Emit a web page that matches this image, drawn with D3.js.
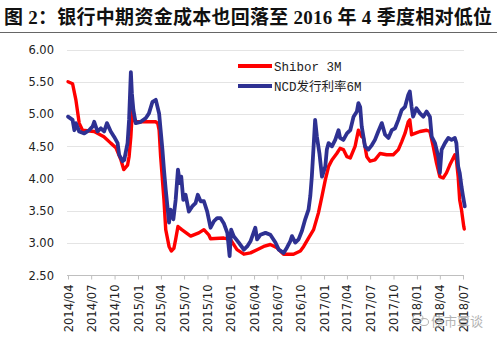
<!DOCTYPE html>
<html><head><meta charset="utf-8">
<script src="https://cdn.jsdelivr.net/npm/d3@7"></script>
<style>
html,body{margin:0;padding:0;background:#fff;}
svg{display:block;}
</style></head>
<body>
<svg id="chart" width="500" height="338"></svg>
<script>
// ---------- data ----------
const titleText = "图 2：银行中期资金成本也回落至 2016 年 4 季度相对低位";
const seriesNames = ["Shibor 3M", "NCD发行利率6M"];
const yTicks = [2.5, 3.0, 3.5, 4.0, 4.5, 5.0, 5.5, 6.0];
const xTickLabels = ["2014/04","2014/07","2014/10","2015/01","2015/04","2015/07","2015/10",
  "2016/01","2016/04","2016/07","2016/10","2017/01","2017/04","2017/07","2017/10",
  "2018/01","2018/04","2018/07"];

const shibor3M = [
 ["2014-04-01",5.50],["2014-04-19",5.47],["2014-05-02",5.22],["2014-05-15",4.86],["2014-05-28",4.75],
 ["2014-07-13",4.73],["2014-08-20",4.65],["2014-09-16",4.55],["2014-10-06",4.48],["2014-10-26",4.29],
 ["2014-11-06",4.14],["2014-11-21",4.21],["2014-11-27",4.34],["2014-12-04",4.65],["2014-12-10",5.06],
 ["2014-12-17",4.90],["2014-12-23",4.88],["2015-03-12",4.88],["2015-03-20",4.85],["2015-03-25",4.75],
 ["2015-03-31",4.34],["2015-04-13",3.67],["2015-04-20",3.21],["2015-05-03",2.95],["2015-05-12",2.88],
 ["2015-05-22",2.92],["2015-05-29",3.06],["2015-06-07",3.26],["2015-06-22",3.21],["2015-07-27",3.11],
 ["2015-08-28",3.16],["2015-09-17",3.21],["2015-10-06",3.13],["2015-10-13",3.07],["2015-12-04",3.08],
 ["2015-12-30",3.06],["2016-01-25",2.90],["2016-02-21",2.83],["2016-03-18",2.85],["2016-04-13",2.90],
 ["2016-05-09",2.95],["2016-06-04",2.98],["2016-06-30",2.93],["2016-07-26",2.83],["2016-09-03",2.83],
 ["2016-09-30",2.88],["2016-10-13",2.95],
 ["2016-11-01",3.08],["2016-11-21",3.21],["2016-12-10",3.47],["2016-12-24",3.73],["2017-01-06",3.98],
 ["2017-01-19",4.19],["2017-02-01",4.29],["2017-02-20",4.39],["2017-03-05",4.47],["2017-03-18",4.45],
 ["2017-04-01",4.34],["2017-04-14",4.32],["2017-05-03",4.50],["2017-05-16",4.75],["2017-05-29",4.65],
 ["2017-06-05",4.63],["2017-06-18",4.34],["2017-07-01",4.27],["2017-07-20",4.29],["2017-08-09",4.39],
 ["2017-09-04",4.37],["2017-09-30",4.37],["2017-10-20",4.45],["2017-11-02",4.57],["2017-11-15",4.70],
 ["2017-11-28",4.88],["2017-12-04",4.91],["2017-12-11",4.68],["2017-12-24",4.70],["2018-01-13",4.73],
 ["2018-02-08",4.75],["2018-02-21",4.73],["2018-03-06",4.50],["2018-03-19",4.24],["2018-04-01",4.03],
 ["2018-04-14",4.01],["2018-04-27",4.09],["2018-05-10",4.21],["2018-05-30",4.37],["2018-06-05",4.29],
 ["2018-06-12",4.03],["2018-06-18",3.67],["2018-06-25",3.52],["2018-07-04",3.26],["2018-07-06",3.22]
];

const ncd6M = [
 ["2014-04-01",4.96],["2014-04-19",4.91],["2014-04-26",4.75],["2014-05-02",4.86],["2014-05-15",4.73],
 ["2014-06-04",4.70],["2014-06-23",4.75],["2014-07-07",4.81],["2014-07-13",4.88],["2014-07-26",4.73],
 ["2014-08-08",4.78],["2014-08-21",4.73],["2014-09-01",4.86],["2014-09-16",4.73],["2014-09-29",4.65],
 ["2014-10-13",4.55],["2014-10-19",4.37],["2014-11-01",4.27],["2014-11-08",4.29],["2014-11-21",4.55],
 ["2014-11-27",4.91],["2014-12-04",5.65],["2014-12-08",5.32],["2014-12-14",5.06],["2014-12-23",4.86],
 ["2015-01-12",4.88],["2015-02-01",4.94],["2015-02-13",5.01],["2015-02-27",5.19],["2015-03-12",5.22],
 ["2015-03-25",5.01],["2015-03-31",4.75],["2015-04-07",4.45],["2015-04-13",4.14],["2015-04-20",3.83],
 ["2015-05-03",3.32],["2015-05-09",3.52],["2015-05-20",3.37],["2015-05-29",3.67],["2015-06-07",4.14],
 ["2015-06-15",3.93],["2015-06-20",4.03],["2015-06-28",3.67],["2015-07-07",3.75],["2015-07-20",3.49],
 ["2015-08-02",3.57],["2015-08-15",3.62],["2015-08-24",3.75],["2015-09-04",3.65],["2015-09-17",3.65],
 ["2015-09-30",3.49],["2015-10-13",3.24],["2015-10-26",3.34],["2015-11-08",3.39],["2015-11-21",3.39],
 ["2015-12-04",3.31],["2015-12-18",3.16],["2015-12-27",2.80],["2016-01-02",3.21],["2016-01-12",3.11],
 ["2016-02-01",3.01],["2016-02-21",2.90],["2016-03-05",2.95],["2016-03-18",3.03],["2016-04-06",3.24],
 ["2016-04-13",3.06],["2016-04-26",3.13],["2016-05-16",3.16],["2016-06-04",3.13],["2016-06-24",3.01],
 ["2016-07-07",2.90],["2016-07-26",2.85],["2016-08-08",2.93],
 ["2016-08-21",3.03],["2016-08-28",3.11],["2016-09-10",3.01],["2016-09-23",3.06],["2016-10-06",3.19],
 ["2016-10-19",3.37],["2016-11-01",3.52],["2016-11-08",3.73],["2016-11-14",4.03],["2016-11-21",4.50],
 ["2016-11-27",4.91],["2016-12-04",4.65],["2016-12-14",4.39],["2016-12-24",4.03],["2017-01-06",4.19],
 ["2017-01-12",4.45],["2017-01-19",4.55],["2017-02-01",4.50],["2017-02-14",4.60],["2017-02-27",4.75],
 ["2017-03-05",4.63],["2017-03-18",4.60],["2017-04-01",4.70],["2017-04-14",4.75],["2017-04-27",4.96],
 ["2017-05-10",5.04],["2017-05-16",5.17],["2017-05-23",5.11],["2017-05-29",4.81],["2017-06-11",4.50],
 ["2017-06-24",4.45],["2017-07-08",4.52],["2017-07-20",4.60],["2017-08-02",4.73],["2017-08-16",4.86],
 ["2017-08-29",4.68],["2017-09-11",4.63],["2017-09-24",4.75],["2017-10-07",4.78],["2017-10-20",4.91],
 ["2017-11-02",5.06],["2017-11-15",5.11],["2017-11-28",5.30],["2017-12-04",5.35],["2017-12-11",5.11],
 ["2017-12-17",4.96],["2017-12-30",5.09],["2018-01-13",5.01],["2018-01-26",4.96],["2018-02-08",5.04],
 ["2018-02-21",4.96],["2018-02-28",4.65],["2018-03-13",4.55],["2018-03-26",4.34],["2018-04-01",4.09],
 ["2018-04-08",4.45],["2018-04-21",4.55],["2018-05-04",4.63],["2018-05-17",4.60],["2018-05-30",4.63],
 ["2018-06-05",4.55],["2018-06-12",4.19],["2018-06-18",4.09],["2018-06-25",3.88],["2018-07-01",3.73],
 ["2018-07-08",3.57]
];

const seriesColors = ["#FF0000", "#2E3192"];

// ---------- drawing ----------
const parse = d3.timeParse("%Y-%m-%d");
const fmtTick = d3.timeFormat("%Y/%m");
const svg = d3.select("#chart");

const x = d3.scaleTime()
  .domain([parse("2014-04-01"), parse("2018-07-01")])
  .range([68, 463]);
const y = d3.scaleLinear().domain([2.5, 6.0]).range([275.5, 49.5]);

// title
svg.append("text")
  .attr("x", 4).attr("y", 24)
  .attr("font-family", "'Liberation Serif','Noto Sans CJK SC',serif")
  .attr("font-weight", "bold")
  .attr("font-size", 19)
  .attr("fill", "#111")
  .attr("textLength", 488)
  .attr("lengthAdjust", "spacing")
  .text(titleText);
svg.append("line")
  .attr("x1", 0).attr("x2", 497).attr("y1", 32.5).attr("y2", 32.5)
  .attr("stroke", "#666").attr("stroke-width", 1);

// gridlines
svg.append("g").selectAll("line")
  .data(yTicks.filter(v => v > 2.5))
  .join("line")
  .attr("x1", 67).attr("x2", 464)
  .attr("y1", d => Math.round(y(d)) + 0.5).attr("y2", d => Math.round(y(d)) + 0.5)
  .attr("stroke", "#E4E4E4").attr("stroke-width", 1);

// y axis labels
const yAxis = d3.axisLeft(y).tickValues(yTicks).tickFormat(d3.format(".2f")).tickSize(0).tickPadding(0);
const gy = svg.append("g").attr("transform", "translate(54,0)").call(yAxis);
gy.select(".domain").remove();
gy.selectAll("text")
  .attr("font-family", "'DejaVu Sans',sans-serif").attr("font-size", 11.5).attr("fill", "#222");

// x axis
const tickDates = xTickLabels.map(s => d3.timeParse("%Y/%m")(s));
const xAxis = d3.axisBottom(x).tickValues(tickDates).tickFormat(fmtTick).tickSize(4).tickSizeOuter(0);
const gx = svg.append("g").attr("transform", "translate(0,275.5)").call(xAxis);
gx.select(".domain").attr("stroke", "#BFBFBF").attr("d", "M67,0H464");
gx.selectAll(".tick line").attr("stroke", "#BFBFBF");
gx.selectAll("text")
  .attr("font-family", "'DejaVu Sans',sans-serif").attr("font-size", 11.5).attr("fill", "#222")
  .attr("text-anchor", "end")
  .attr("transform", "rotate(-90)")
  .attr("x", -9).attr("y", 0).attr("dy", "0.35em");

// lines
const line = d3.line().x(d => x(parse(d[0]))).y(d => y(d[1]));
[shibor3M, ncd6M].forEach((s, i) => {
  svg.append("path")
    .datum(s)
    .attr("d", line)
    .attr("fill", "none")
    .attr("stroke", seriesColors[i])
    .attr("stroke-width", i === 0 ? 3.4 : 3.8)
    .attr("stroke-linejoin", "round")
    .attr("stroke-linecap", "round");
});

// legend
const lg = svg.append("g");
seriesNames.forEach((name, i) => {
  const ly = 66 + i * 20;
  lg.append("line").attr("x1", 238).attr("x2", 272).attr("y1", ly).attr("y2", ly)
    .attr("stroke", seriesColors[i]).attr("stroke-width", 4);
  lg.append("text").attr("x", 274).attr("y", ly + 4.5)
    .attr("font-family", "'Liberation Mono','Noto Sans CJK SC',monospace")
    .attr("font-size", 12.5).attr("fill", "#222")
    .text(name);
});

// watermark
const wm = svg.append("g").attr("opacity", 0.75);
wm.append("ellipse").attr("cx", 418).attr("cy", 318).attr("rx", 5).attr("ry", 4)
  .attr("fill", "none").attr("stroke", "#9a9a9a").attr("stroke-width", 1);
wm.append("ellipse").attr("cx", 424).attr("cy", 322).attr("rx", 4.5).attr("ry", 3.5)
  .attr("fill", "none").attr("stroke", "#9a9a9a").attr("stroke-width", 1);
wm.append("text").attr("x", 431).attr("y", 326)
  .attr("font-family", "'Noto Sans CJK SC',sans-serif").attr("font-size", 13)
  .attr("fill", "#9a9a9a").text("债市覃谈");
</script>
</body></html>
